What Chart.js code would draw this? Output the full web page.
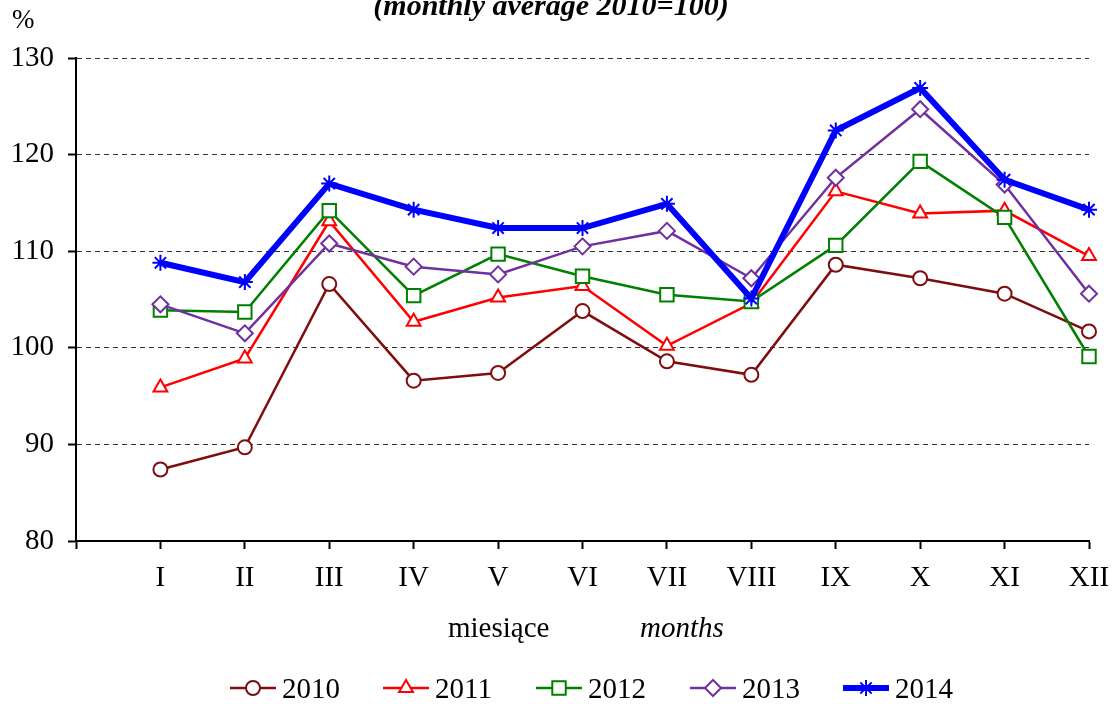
<!DOCTYPE html>
<html>
<head>
<meta charset="utf-8">
<script src="https://cdn.jsdelivr.net/npm/chart.js@4.4.0/dist/chart.umd.min.js"></script>
<style>
  body { margin: 0; background: #fff; }
  #wrap { width: 1116px; height: 704px; }
</style>
</head>
<body>
<div id="wrap"><canvas id="chartjs-0" width="1116" height="704"></canvas></div>
<script>
"use strict";

// months (first slot on the axis is left empty, like in the original)
let months = ["I", "II", "III", "IV", "V", "VI", "VII", "VIII", "IX", "X", "XI", "XII"];

// monthly average 2010 = 100
let v2010 = [87.4, 89.7, 106.6, 96.6, 97.4, 103.8, 98.6, 97.2, 108.6, 107.2, 105.6, 101.7];
let v2011 = [95.9, 98.9, 113.1, 102.7, 105.2, 106.4, 100.2, 104.6, 116.2, 113.9, 114.2, 109.5];
let v2012 = [103.9, 103.7, 114.2, 105.4, 109.7, 107.4, 105.5, 104.8, 110.6, 119.3, 113.5, 99.1];
let v2013 = [104.5, 101.5, 110.8, 108.4, 107.6, 110.5, 112.1, 107.2, 117.6, 124.7, 116.9, 105.6];
let v2014 = [108.8, 106.8, 117.0, 114.3, 112.4, 112.4, 114.9, 105.1, 122.5, 126.9, 117.4, 114.3];

let yTicks = [80, 90, 100, 110, 120, 130];

let FONT = "'Liberation Serif', 'Times New Roman', serif";

function pad(arr) {
    return [null].concat(arr);
}

function makeSet(label, data, color, style, radius, width, order) {
    return {
        label: label,
        data: pad(data),
        borderColor: color,
        backgroundColor: "#fff",
        borderWidth: width,
        pointStyle: style,
        pointRadius: radius,
        pointHoverRadius: radius,
        pointBorderColor: color,
        pointBackgroundColor: "#fff",
        pointBorderWidth: 2,
        tension: 0,
        fill: false,
        order: order
    };
}

let datasets = [
    makeSet("2010", v2010, "#7f0d0d", "circle", 7, 2.5, 4),
    makeSet("2011", v2011, "#ff0000", "triangle", 8, 2.5, 3),
    makeSet("2012", v2012, "#008000", "rect", 9.5, 2.5, 2),
    makeSet("2013", v2013, "#7030a0", "rectRot", 8, 2.5, 1),
    makeSet("2014", v2014, "#0000ff", "star", 8, 6, 0)
];

// Title, axis captions and the line+marker legend
let extras = {
    id: "extras",
    afterDraw: function (chart) {
        let ctx = chart.ctx;
        ctx.save();
        ctx.fillStyle = "#000";
        ctx.textBaseline = "alphabetic";

        ctx.font = "italic bold 30px " + FONT;
        ctx.textAlign = "center";
        ctx.fillText("(monthly average 2010=100)", 551, 15);

        ctx.font = "27px " + FONT;
        ctx.textAlign = "left";
        ctx.fillText("%", 12, 28);

        ctx.font = "29px " + FONT;
        ctx.fillText("miesiące", 448, 637);
        ctx.font = "italic 29px " + FONT;
        ctx.fillText("months", 640, 637);

        // legend
        let lx = [230, 383, 536, 690, 843];
        let ly = 688;
        chart.data.datasets.forEach(function (ds, i) {
            let x = lx[i];
            ctx.strokeStyle = ds.borderColor;
            ctx.lineWidth = ds.borderWidth;
            ctx.setLineDash([]);
            ctx.beginPath();
            ctx.moveTo(x, ly);
            ctx.lineTo(x + 46, ly);
            ctx.stroke();

            ctx.fillStyle = "#fff";
            ctx.strokeStyle = ds.borderColor;
            ctx.lineWidth = 2;
            if (Chart.helpers && Chart.helpers.drawPoint) {
                Chart.helpers.drawPoint(ctx, {
                    pointStyle: ds.pointStyle,
                    radius: ds.pointRadius,
                    rotation: 0,
                    borderWidth: 2
                }, x + 23, ly);
            }

            ctx.fillStyle = "#000";
            ctx.font = "29px " + FONT;
            ctx.textAlign = "left";
            ctx.fillText(ds.label, x + 52, ly + 10);
        });
        ctx.restore();
    }
};

let ctx0 = document.getElementById("chartjs-0");
let myChart0 = new Chart(ctx0, {
    type: "line",
    data: {
        labels: [""].concat(months),
        datasets: datasets
    },
    options: {
        responsive: false,
        animation: false,
        layout: { padding: { left: 0, top: 58, right: 27, bottom: 0 } },
        plugins: {
            legend: { display: false },
            tooltip: { enabled: false }
        },
        scales: {
            x: {
                offset: false,
                afterFit: function (s) {
                    s.height = 163;
                    s.paddingLeft = 0;
                    s.paddingRight = 0;
                },
                border: { color: "#000", width: 2 },
                grid: {
                    drawOnChartArea: false,
                    drawTicks: true,
                    tickLength: 8,
                    tickColor: "#000",
                    tickWidth: 2
                },
                ticks: {
                    color: "#000",
                    padding: 12,
                    autoSkip: false,
                    maxRotation: 0,
                    font: { family: FONT, size: 29 }
                }
            },
            y: {
                min: yTicks[0],
                max: yTicks[yTicks.length - 1],
                afterFit: function (s) { s.width = 76; },
                afterBuildTicks: function (s) {
                    s.ticks = yTicks.map(function (v) { return { value: v }; });
                },
                border: { color: "#000", width: 2, dash: [5, 4] },
                grid: {
                    color: "#333",
                    lineWidth: 1,
                    tickBorderDash: [],
                    tickLength: 8,
                    tickColor: "#000",
                    tickWidth: 2
                },
                ticks: {
                    color: "#000",
                    padding: 14,
                    font: { family: FONT, size: 29 }
                }
            }
        }
    },
    plugins: [extras]
});
</script>
</body>
</html>
